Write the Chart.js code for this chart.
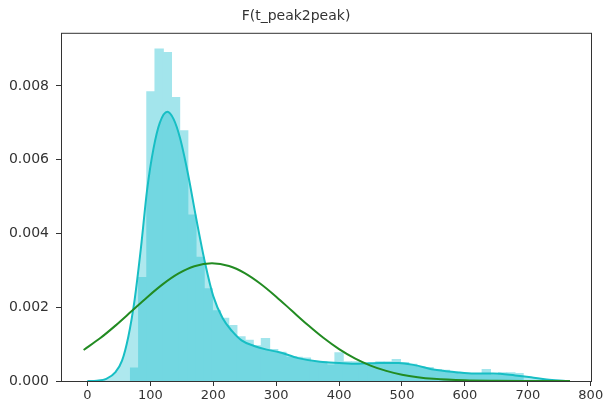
<!DOCTYPE html>
<html>
<head>
<meta charset="utf-8">
<script src="https://cdn.jsdelivr.net/npm/chart.js@4/dist/chart.umd.min.js"></script>
<style>
  body { margin: 0; background: #fff; }
  canvas { display: block; }
</style>
</head>
<body>
<canvas id="chart" width="606" height="403"></canvas>
<script>
// histogram bins of t_peak2peak (bin centers, density)
const binCenters = [
  75, 88, 101, 114, 127, 140, 153, 166, 179, 192, 205, 218,
  231, 244, 257, 270, 283, 296, 309, 322, 335, 348, 361, 374,
  387, 400, 413, 426, 439, 452, 465, 478, 491, 504, 517, 530,
  543, 556, 569, 582, 595, 608, 621, 634, 647, 660, 673, 686
]
const binHeights = [
  0.00035, 0.0028, 0.00784, 0.0090, 0.0089, 0.00768, 0.00678, 0.0045, 0.00335, 0.0025, 0.0019, 0.0017,
  0.0015, 0.0012, 0.0011, 0.00095, 0.00115, 0.00085, 0.00078, 0.00064, 0.00064, 0.00062, 0.00052, 0.00052,
  0.00043, 0.00076, 0.00052, 0.00052, 0.00043, 0.00045, 0.00052, 0.00052, 0.00058, 0.0005, 0.00045, 0.00038,
  0.00036, 0.0003, 0.00029, 0.00025, 0.0002, 0.0002, 0.0002, 0.00031, 0.00016, 0.00022, 0.00022, 0.0002
]

// kde curve
const kdeX = [
  0, 15, 30, 45, 55, 65, 75, 85, 95, 105, 115, 127, 137, 147, 160, 173, 187, 200, 215,
  230, 245, 265, 285, 305, 335, 370, 400, 430, 465, 495, 520, 550, 585, 615, 645, 680,
  705, 730, 760
]
const kdeY = [
  0, 0.00001, 0.00006, 0.00025, 0.00055, 0.0012, 0.0022, 0.0036, 0.0052, 0.0063, 0.0070, 0.0073, 0.0071,
  0.0066, 0.0056, 0.0044, 0.0032, 0.0023, 0.0017, 0.00135, 0.0011, 0.00095, 0.00085, 0.00078, 0.00062,
  0.00052, 0.00049, 0.00047, 0.00049, 0.00049, 0.00043, 0.00031, 0.00024, 0.0002, 0.0002, 0.00015,
  0.0001, 0.00004, 0
]

// fitted normal curve
const fitX = [
  -6, 20, 45, 70, 95, 120, 145, 170, 198, 225, 250, 275, 300, 325, 350, 375,
  400, 425, 450, 475, 500, 525, 550, 600, 650, 700, 767
]
const fitY = [
  0.000842, 0.001157, 0.001508, 0.001889, 0.002272, 0.002626, 0.002916, 0.003111, 0.00319,
  0.003117, 0.002926, 0.002638, 0.002287, 0.001904, 0.001524, 0.001171, 0.000864, 0.000614,
  0.000418, 0.000274, 0.000172, 0.000104, 0.0000605, 0.0000181, 0.0000046, 0.000001, 0
]

const xTicks = [0, 100, 200, 300, 400, 500, 600, 700, 800]
const yTicks = [0, 0.002, 0.004, 0.006, 0.008]

const textColor = '#333'

const frame = {
  id: 'frame',
  afterDatasetsDraw(chart) {
    const { ctx, chartArea: a } = chart
    ctx.save()
    ctx.strokeStyle = '#333'
    ctx.lineWidth = 1
    ctx.strokeRect(a.left + 0.5, a.top + 0.5, a.right - a.left - 1, a.bottom - a.top)
    ctx.restore()
  }
}

const ctx = document.getElementById('chart').getContext('2d')
new Chart(ctx, {
  type: 'bar',
  data: {
    datasets: [
      {
        type: 'line',
        data: fitX.map((x, i) => ({ x, y: fitY[i] })),
        borderColor: 'rgb(34,139,34)',
        borderWidth: 2,
        pointRadius: 0,
        cubicInterpolationMode: 'monotone',
        fill: false,
        order: 1
      },
      {
        type: 'line',
        data: kdeX.map((x, i) => ({ x, y: kdeY[i] })),
        borderColor: 'rgb(23,190,196)',
        backgroundColor: 'rgba(23,190,207,0.35)',
        borderWidth: 2,
        pointRadius: 0,
        cubicInterpolationMode: 'monotone',
        fill: 'origin',
        order: 2
      },
      {
        data: binCenters.map((x, i) => ({ x, y: binHeights[i] })),
        backgroundColor: 'rgb(163,229,236)',
        borderWidth: 0,
        inflateAmount: 0.6,
        barPercentage: 1,
        categoryPercentage: 1,
        order: 3
      }
    ]
  },
  options: {
    responsive: false,
    animation: false,
    layout: { padding: { left: 0, right: 14, top: 0, bottom: 0 } },
    plugins: {
      legend: { display: false },
      tooltip: { enabled: false },
      title: {
        display: true,
        text: 'F(t_peak2peak)',
        color: textColor,
        font: { family: 'DejaVu Sans', size: 14, weight: 'normal' },
        padding: { top: 8, bottom: 8 }
      }
    },
    scales: {
      x: {
        type: 'linear',
        min: -42,
        max: 802,
        offset: false,
        border: { display: false },
        grid: { offset: false, drawOnChartArea: false, drawTicks: true, tickLength: 5, color: '#333' },
        ticks: { color: textColor, font: { family: 'DejaVu Sans', size: 13 }, padding: 2, maxRotation: 0 },
        afterBuildTicks: s => { s.ticks = xTicks.map(v => ({ value: v })) },
        afterFit: s => { s.height = 22 }
      },
      y: {
        min: 0,
        max: 0.00944,
        border: { display: false },
        grid: { drawOnChartArea: false, drawTicks: true, tickLength: 5, color: '#333' },
        ticks: { color: textColor, font: { family: 'DejaVu Sans', size: 14 }, padding: 7, callback: v => v.toFixed(3) },
        afterBuildTicks: s => { s.ticks = yTicks.map(v => ({ value: v })) },
        afterFit: s => { s.width = 61 }
      }
    }
  },
  plugins: [frame]
})
</script>
</body>
</html>
